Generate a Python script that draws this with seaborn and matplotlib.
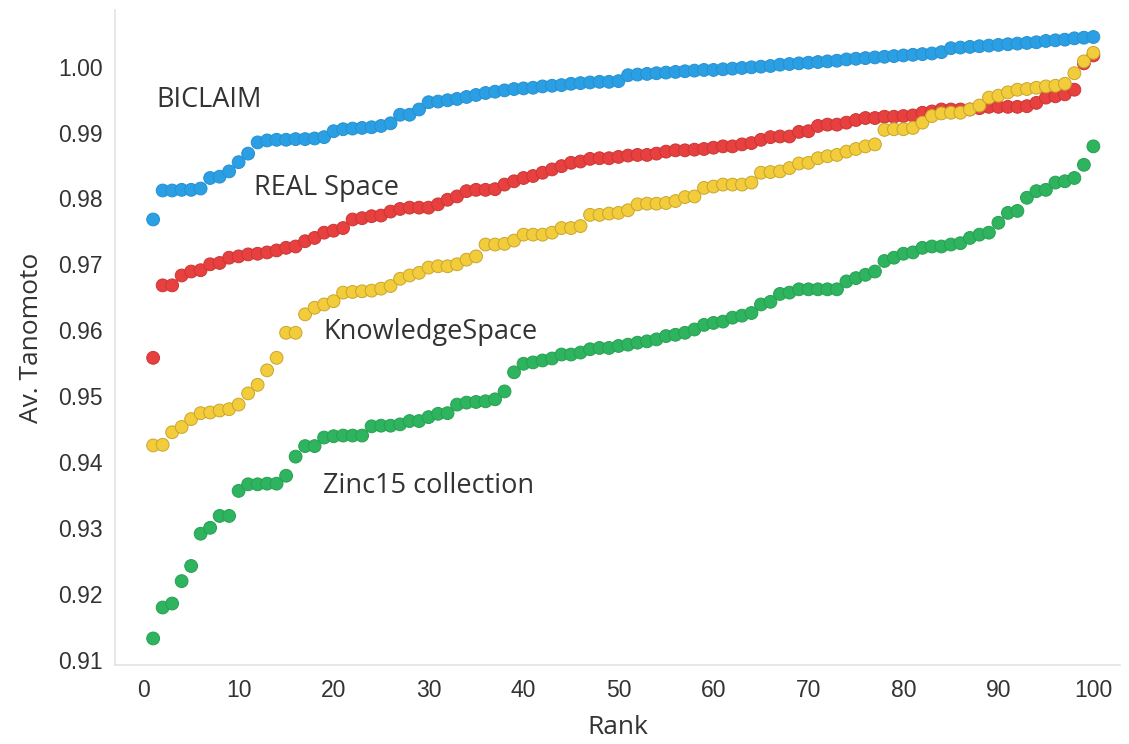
import numpy as np
import pandas as pd
import matplotlib
matplotlib.use("Agg")
import matplotlib.pyplot as plt
import seaborn as sns

ranks = list(range(1, 101))

biclaim = [
    0.9768, 0.9812, 0.9812, 0.9813, 0.9813, 0.9815, 0.9831, 0.9833, 0.9841, 0.9855,
    0.9868, 0.9885, 0.9888, 0.9889, 0.9889, 0.9890, 0.9890, 0.9891, 0.9893, 0.9902,
    0.9905, 0.9906, 0.9907, 0.9908, 0.9910, 0.9914, 0.9927, 0.9927, 0.9935, 0.9946,
    0.9947, 0.9949, 0.9951, 0.9954, 0.9957, 0.9960, 0.9962, 0.9964, 0.9966, 0.9967,
    0.9968, 0.9970, 0.9971, 0.9972, 0.9974, 0.9975, 0.9976, 0.9977, 0.9977, 0.9978,
    0.9987, 0.9988, 0.9989, 0.9990, 0.9991, 0.9992, 0.9993, 0.9994, 0.9995, 0.9995,
    0.9996, 0.9997, 0.9998, 0.9999, 1.0000, 1.0001, 1.0003, 1.0004, 1.0005, 1.0006,
    1.0007, 1.0008, 1.0009, 1.0011, 1.0012, 1.0013, 1.0014, 1.0015, 1.0016, 1.0017,
    1.0018, 1.0019, 1.0020, 1.0022, 1.0028, 1.0029, 1.0030, 1.0031, 1.0032, 1.0033,
    1.0034, 1.0035, 1.0036, 1.0037, 1.0039, 1.0040, 1.0041, 1.0043, 1.0044, 1.0045,
]

real_space = [
    0.9558, 0.9668, 0.9668, 0.9683, 0.9689, 0.9691, 0.9700, 0.9702, 0.9710, 0.9712,
    0.9715, 0.9716, 0.9718, 0.9721, 0.9725, 0.9727, 0.9735, 0.9740, 0.9748, 0.9751,
    0.9755, 0.9768, 0.9770, 0.9773, 0.9774, 0.9780, 0.9784, 0.9786, 0.9786, 0.9786,
    0.9791, 0.9798, 0.9803, 0.9811, 0.9813, 0.9813, 0.9814, 0.9821, 0.9826, 0.9831,
    0.9834, 0.9839, 0.9844, 0.9849, 0.9854, 0.9856, 0.9860, 0.9861, 0.9861, 0.9863,
    0.9865, 0.9866, 0.9866, 0.9868, 0.9871, 0.9873, 0.9873, 0.9874, 0.9875, 0.9877,
    0.9879, 0.9879, 0.9882, 0.9884, 0.9889, 0.9893, 0.9894, 0.9894, 0.9901, 0.9902,
    0.9910, 0.9912, 0.9912, 0.9915, 0.9919, 0.9922, 0.9922, 0.9924, 0.9924, 0.9925,
    0.9926, 0.9930, 0.9932, 0.9935, 0.9935, 0.9935, 0.9935, 0.9937, 0.9939, 0.9939,
    0.9939, 0.9939, 0.9940, 0.9945, 0.9953, 0.9955, 0.9958, 0.9965, 1.0005, 1.0017,
]

knowledge_space = [
    0.9425, 0.9426, 0.9445, 0.9453, 0.9465, 0.9474, 0.9475, 0.9478, 0.9480, 0.9487,
    0.9504, 0.9517, 0.9539, 0.9558, 0.9596, 0.9596, 0.9624, 0.9634, 0.9639, 0.9644,
    0.9657, 0.9658, 0.9659, 0.9660, 0.9663, 0.9667, 0.9678, 0.9683, 0.9687, 0.9695,
    0.9697, 0.9697, 0.9700, 0.9707, 0.9712, 0.9730, 0.9730, 0.9731, 0.9736, 0.9745,
    0.9745, 0.9745, 0.9748, 0.9755, 0.9755, 0.9758, 0.9775, 0.9775, 0.9777, 0.9778,
    0.9782, 0.9791, 0.9792, 0.9792, 0.9793, 0.9796, 0.9802, 0.9803, 0.9816, 0.9818,
    0.9821, 0.9821, 0.9821, 0.9824, 0.9839, 0.9840, 0.9841, 0.9846, 0.9853, 0.9854,
    0.9861, 0.9864, 0.9866, 0.9871, 0.9875, 0.9879, 0.9882, 0.9904, 0.9905, 0.9905,
    0.9907, 0.9915, 0.9925, 0.9929, 0.9930, 0.9930, 0.9935, 0.9941, 0.9953, 0.9956,
    0.9961, 0.9965, 0.9966, 0.9968, 0.9970, 0.9971, 0.9974, 0.9990, 1.0008, 1.0021,
]

zinc15 = [
    0.9132, 0.9179, 0.9185, 0.9219, 0.9242, 0.9291, 0.9300, 0.9318, 0.9318, 0.9356,
    0.9366, 0.9366, 0.9367, 0.9367, 0.9379, 0.9408, 0.9424, 0.9424, 0.9437, 0.9439,
    0.9440, 0.9440, 0.9440, 0.9454, 0.9455, 0.9455, 0.9457, 0.9462, 0.9462, 0.9468,
    0.9473, 0.9474, 0.9487, 0.9490, 0.9491, 0.9492, 0.9495, 0.9507, 0.9536, 0.9549,
    0.9551, 0.9554, 0.9557, 0.9563, 0.9563, 0.9566, 0.9571, 0.9573, 0.9573, 0.9576,
    0.9578, 0.9581, 0.9583, 0.9586, 0.9591, 0.9593, 0.9596, 0.9601, 0.9608, 0.9611,
    0.9613, 0.9619, 0.9622, 0.9626, 0.9639, 0.9643, 0.9655, 0.9657, 0.9662, 0.9662,
    0.9662, 0.9662, 0.9662, 0.9674, 0.9679, 0.9684, 0.9689, 0.9705, 0.9710, 0.9716,
    0.9718, 0.9725, 0.9727, 0.9727, 0.9730, 0.9732, 0.9740, 0.9745, 0.9748, 0.9763,
    0.9778, 0.9781, 0.9801, 0.9811, 0.9813, 0.9824, 0.9826, 0.9831, 0.9851, 0.9879,
]

series_names = ["BICLAIM", "REAL Space", "KnowledgeSpace", "Zinc15 collection"]
series_values = [biclaim, real_space, knowledge_space, zinc15]
colors = ["#2b9fe3", "#e8403f", "#f2cc3a", "#2eb35f"]
edge_colors = ["#2690d0", "#c93636", "#c9a52c", "#27a052"]
y_ticks = [0.91, 0.92, 0.93, 0.94, 0.95, 0.96, 0.97, 0.98, 0.99, 1.00]
x_ticks = [0, 10, 20, 30, 40, 50, 60, 70, 80, 90, 100]

df = pd.DataFrame({
    "Rank": np.tile(ranks, len(series_names)),
    "Score": np.concatenate(series_values),
    "Library": np.repeat(series_names, len(ranks)),
})

sns.set_theme(style="white")
plt.rcParams["font.family"] = ["Liberation Sans", "DejaVu Sans"]

fig = plt.figure(figsize=(11.29, 7.44), dpi=100)
ax = fig.add_axes([0.102, 0.106, 0.890, 0.881])

sns.scatterplot(data=df, x="Rank", y="Score", hue="Library", hue_order=series_names,
                palette=colors, s=85, linewidth=0.7, legend=False, ax=ax, zorder=3)

coll = ax.collections[0]
edge_map = dict(zip(series_names, edge_colors))
coll.set_edgecolors([edge_map[n] for n in df["Library"]])

ax.set_xlim(-3, 102.8)
ax.set_ylim(0.90915, 1.00865)
ax.set_xticks(x_ticks)
ax.set_yticks(y_ticks)
ax.set_yticklabels([f"{t:.2f}" for t in y_ticks])
ax.tick_params(axis="both", length=0, labelsize=16.5, labelcolor="#333333")
ax.tick_params(axis="y", pad=9)
ax.tick_params(axis="x", pad=10)

for side in ["top", "right"]:
    ax.spines[side].set_visible(False)
for side in ["left", "bottom"]:
    ax.spines[side].set_color("#e3e3e3")
    ax.spines[side].set_linewidth(1.2)

label_font = ["Open Sans", "DejaVu Sans"]
ax.set_xlabel("Rank", fontsize=19, color="#333333", family=label_font, labelpad=9)
ax.set_ylabel("Av. Tanomoto", fontsize=19, color="#333333", family=label_font, labelpad=10)

annotations = [
    ("BICLAIM", 1.3, 0.9950),
    ("REAL Space", 11.6, 0.98165),
    ("KnowledgeSpace", 18.9, 0.95965),
    ("Zinc15 collection", 18.9, 0.93627),
]
for text, x, y in annotations:
    ax.text(x, y, text, fontsize=19.5, color="#333333", family=label_font,
            ha="left", va="center", zorder=4)

fig.savefig("out.png", dpi=100, facecolor="white")
